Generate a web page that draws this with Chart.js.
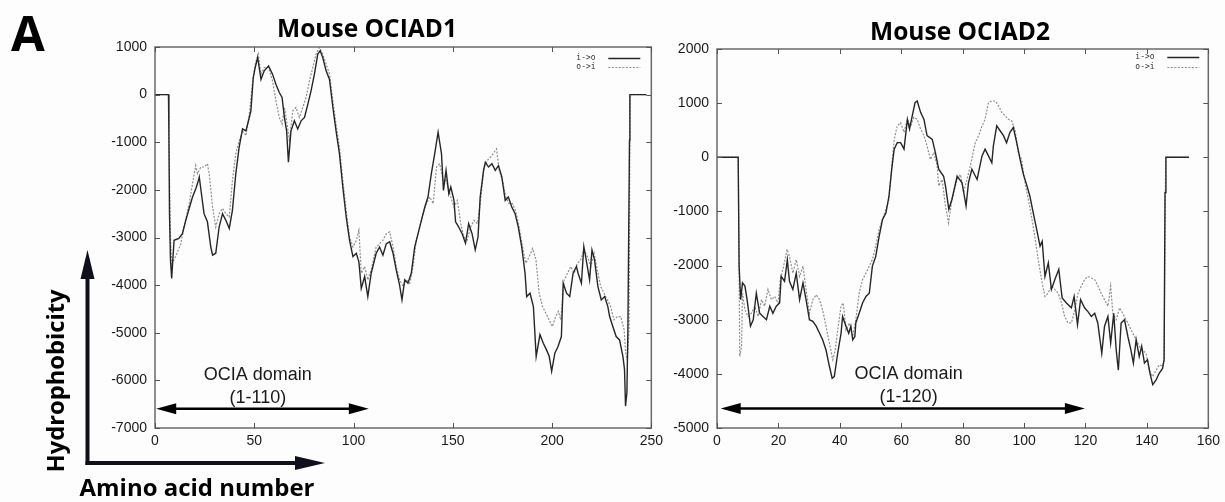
<!DOCTYPE html>
<html>
<head>
<meta charset="utf-8">
<script src="https://cdn.jsdelivr.net/npm/chart.js@4.4.1/dist/chart.umd.min.js"></script>
<style>
  html, body { margin: 0; padding: 0; background: #fdfdfd; }
  #wrap { position: relative; width: 1225px; height: 502px; overflow: hidden; }
  canvas { position: absolute; top: 0; }
  svg { position: absolute; left: 0; top: 0; pointer-events: none; }
</style>
</head>
<body>
<div id="wrap">
  <canvas id="c1" width="668" height="502" style="left:0"></canvas>
  <canvas id="c2" width="557" height="502" style="left:668px"></canvas>
  <svg width="1225" height="502" viewBox="0 0 1225 502">
    <text x="11" y="51" font-family="Open Sans" font-weight="bold" font-size="49" fill="#000">A</text>
    <text x="367" y="37" text-anchor="middle" font-family="Open Sans" font-weight="bold" font-size="25" textLength="180" lengthAdjust="spacingAndGlyphs" fill="#000">Mouse OCIAD1</text>
    <text x="960" y="40" text-anchor="middle" font-family="Open Sans" font-weight="bold" font-size="25" textLength="180" lengthAdjust="spacingAndGlyphs" fill="#000">Mouse OCIAD2</text>
    <text transform="translate(64,381) rotate(-90)" text-anchor="middle" font-family="Open Sans" font-weight="bold" font-size="23" textLength="183" lengthAdjust="spacingAndGlyphs" fill="#000">Hydrophobicity</text>
    <text x="197" y="496" text-anchor="middle" font-family="Open Sans" font-weight="bold" font-size="23" textLength="235" lengthAdjust="spacingAndGlyphs" fill="#000">Amino acid number</text>
    <line x1="87.5" y1="465" x2="87.5" y2="276" stroke="#10101c" stroke-width="4"/>
    <polygon points="87.5,250 80.5,279 94.5,279" fill="#10101c"/>
    <line x1="85.5" y1="463" x2="297" y2="463" stroke="#10101c" stroke-width="4"/>
    <polygon points="325,463 295,456 295,470" fill="#10101c"/>
  </svg>
</div>
<script>
// ---------------- Data: Mouse OCIAD1 (TMpred hydrophobicity) ----------------
const ociad1_io_aa = [0,6.8,7,7.3,7.8,8.4,9.6,12,13.8,15.5,17.2,18.9,20.5,21.9,22.3,23.6,24.7,26.4,28.1,29,30.6,32.3,34,35.7,37.4,39,40.7,42.4,44.1,45.8,47.5,48.3,49.5,50.5,51.7,53.4,55,57.2,59.2,60.9,62.6,64,65.2,66.3,67.2,68.5,70.2,71.9,73.6,75.3,77,78.6,80.3,82,83.2,84.5,86.2,87.9,89.6,91.2,92.9,94.6,96.3,98,99.7,101.4,102.7,103.9,105.6,107.2,108.9,111.4,113.1,114.8,116.5,118.2,119.9,121.5,123.2,124.4,125.8,127.4,129.1,130.8,132.5,134.2,135.9,137.5,139.2,140.9,142.6,144.3,145.3,146.6,148,149,150.6,151.4,153,154.7,156.4,158,159.7,161.3,162.7,163.8,165.5,166.4,168,169.7,171.4,173,174.7,176.4,178,179.7,181.4,183,184.7,186.4,187.2,188.9,190.6,192,193.9,195.6,197.2,198.6,199.8,201.4,203,204.7,205.6,207.3,208.9,210.6,212.3,213.1,214.8,216,217.2,218.9,220.1,221.4,223.1,224.8,226.5,228.1,229,230.6,232.3,234,235.7,236.5,237,237.7,238.2,239,239.2,247.5];
const ociad1_io = [0,0,-830,-2500,-3470,-3860,-3060,-3020,-2920,-2640,-2390,-2150,-1980,-1800,-1730,-2150,-2500,-2670,-3200,-3370,-3330,-2780,-2500,-2640,-2810,-2430,-1660,-1100,-720,-760,-480,-340,360,570,780,320,500,600,430,220,45,-60,-480,-760,-1420,-760,-550,-720,-550,-480,-200,80,430,850,920,780,500,320,-270,-760,-1240,-1940,-2570,-3060,-3400,-3330,-3510,-4070,-3820,-4240,-3750,-3330,-3200,-3370,-3130,-3090,-3330,-3680,-4000,-4310,-3890,-3960,-3750,-3200,-2920,-2640,-2360,-2150,-1660,-1240,-790,-1240,-2010,-1590,-2080,-1940,-2220,-2670,-2780,-2920,-3120,-2710,-2920,-3260,-2990,-2150,-1590,-1420,-1520,-1450,-1590,-1490,-1730,-2220,-2150,-2360,-2500,-2780,-3190,-3750,-4240,-4170,-4450,-5500,-5040,-5220,-5360,-5500,-5810,-5430,-5290,-5080,-3960,-4170,-4240,-3750,-3610,-3750,-3960,-3190,-3470,-3890,-3260,-3470,-4030,-4310,-4240,-4450,-4660,-4870,-5080,-5150,-5500,-5770,-6540,-6260,-4940,-960,0,0];
const ociad1_oi_aa = [0,6.8,7.2,7.8,8.5,10.4,13,14.6,17.2,18.9,20.5,21.4,23.1,24.7,26.4,27.3,29,30.6,32.3,34,35.7,37.4,39,40.7,42.4,44.1,45.8,47.5,49.2,50.5,52,53.4,55,57.2,59.2,60.9,62.6,64,65.2,66.3,67.7,69.4,71,72.7,74.4,76.1,77.8,79.5,81.1,82.8,84.5,86.2,87.9,89.6,91.2,92.9,94.6,96.3,98,99.7,101.4,102.7,103.9,105.6,107.2,108.9,111.4,113.1,114.8,116.5,118.2,119.9,121.5,123.2,125,126.6,128.3,130,131.6,133.3,135,136.7,138.4,140.1,141.8,143.4,145.1,146.6,149,150.6,152.3,154,155.6,157.3,159,160.7,162.4,164,165.7,167.4,169.1,170.8,172,173.4,175,176.7,178.4,180.1,181.8,183.4,185.1,186.8,188.5,190.2,191.9,193.5,195.2,196.9,198.5,200.2,201.8,203.2,204.4,206.1,207.8,209.4,211.1,212.8,214.4,216.1,217.8,219.5,221.2,222.8,224.5,226.2,227.9,229.5,231.2,232.9,234.6,236.3,237.1,237.9,238.8,239.2,239.3,247.5];
const ociad1_oi = [0,0,-1500,-3000,-3550,-3400,-3130,-2780,-2290,-1870,-1490,-1660,-1520,-1520,-1450,-1660,-2360,-2780,-2500,-2390,-2500,-2570,-1800,-1240,-970,-760,-860,-410,290,640,850,430,570,570,290,-130,-480,-620,-270,-550,-970,-340,-270,-480,-270,-60,290,570,850,990,850,640,430,-130,-620,-1100,-1800,-2430,-2990,-3200,-3060,-2850,-3750,-3610,-3890,-3680,-3200,-3130,-3060,-2920,-2880,-3200,-3610,-3890,-4030,-3890,-3960,-3610,-3060,-2780,-2500,-2290,-2150,-2290,-1520,-1450,-1800,-1800,-2150,-2360,-2220,-2710,-2990,-3050,-2780,-2640,-2710,-2220,-1520,-1380,-1310,-1210,-1140,-1590,-1800,-2150,-2290,-2290,-2460,-2780,-3190,-3540,-3400,-3230,-3470,-4170,-4450,-4590,-4730,-4870,-4660,-4550,-4730,-3890,-3750,-3610,-3750,-3540,-3470,-3260,-3400,-3610,-3330,-3680,-4030,-4170,-4310,-4450,-4730,-4660,-4660,-4940,-5430,-5570,-4940,-960,0,0];

// ---------------- Data: Mouse OCIAD2 ----------------
const ociad2_io_aa = [0,6.9,7.2,7.7,8.3,9.1,9.8,10.9,11.8,12.8,13.9,15,16.1,17.2,18.2,19.3,20.4,20.9,22,22.9,23.6,24.7,25.8,26.9,28,29,30.1,31.2,32.3,33.4,34.4,35.5,36.6,37.5,38.2,39.3,40.4,40.9,42,42.9,43.6,44.2,44.9,45.2,46.3,47.4,48.5,49.6,50.6,51.7,52.8,53.9,55,56,56.9,57.7,58.7,59.8,60.9,62,62.7,63.6,64.5,65.2,66.3,67.4,68.4,70.1,71.1,72.2,73.8,74.4,75.5,76.5,78.2,79.8,81.1,81.9,83,84.7,86.3,87.3,88.4,89.5,90,91.1,92.2,93.3,94.3,95.4,96.5,97.6,98.7,99.8,100.8,101.9,103,104.1,105.2,105.9,106.8,107.9,108.9,110,111.3,112.4,113.8,115.4,116.3,117.4,118.4,119.7,120.8,121.9,123,124,125.3,126.2,127.3,128.2,129.2,130,130.7,131.6,132.7,133.8,134.8,135.6,136.5,137.5,138.3,139.2,140.2,141,141.9,143,144,145.1,145.6,145.9,146.2,153.7];
const ociad2_io = [0,0,-2010,-2630,-2320,-2380,-2630,-3120,-3000,-2510,-2880,-2940,-3000,-2750,-2880,-2750,-2690,-2200,-2290,-1890,-2290,-2440,-2140,-2630,-2320,-2630,-3000,-3030,-3120,-3250,-3370,-3560,-3860,-4080,-4050,-3620,-3250,-2940,-3120,-3250,-3120,-3370,-3310,-3060,-2880,-2690,-2570,-2510,-2010,-1830,-1460,-1150,-1030,-720,-220,150,270,270,150,700,520,770,1010,1040,830,700,400,330,90,-220,-350,-530,-960,-780,-350,-470,-900,-470,-220,-410,25,150,25,-100,210,580,490,400,270,460,550,270,-40,-320,-500,-720,-1030,-1330,-1640,-1550,-2200,-1950,-2440,-2260,-2070,-2600,-2690,-2780,-2570,-3090,-2630,-2780,-2850,-2940,-2880,-3060,-3620,-3120,-2940,-3430,-2880,-3560,-3930,-3060,-3000,-3310,-3560,-3800,-3370,-3680,-3490,-3800,-3740,-3990,-4200,-4110,-3990,-3900,-3740,-650,0,0];
const ociad2_oi_aa = [0,6.9,7.2,7.4,8,8.3,9.1,10.1,11.2,12.3,13.4,14.5,15.5,16.6,17.7,18.8,19.9,20.6,21.7,22.8,23.6,24.7,25.8,26.9,28,29,30.1,31.2,32.3,33.4,34.4,35.5,36.6,37.7,38.5,39.3,40.4,41.1,42,43.1,44.2,45.2,46.3,47.4,48.5,49.6,50.6,51.7,52.8,53.9,55,56,56.9,57.7,58.7,59.8,60.9,62,63.1,64.1,65.2,66.3,67.4,68.4,69.5,70.6,71.7,72.2,73.3,74.4,75.4,76.5,78.2,79.3,80.3,81.4,82.5,84.1,85.2,86.3,87.3,88.4,89.5,90.6,91.7,92.7,93.8,94.9,96,97.1,98.1,99.2,100.3,101.4,102.4,103.5,104.6,105.7,106.8,107.8,108.9,110,111.1,112.2,113.2,114.3,115.4,116.5,117.6,118.6,119.7,120.8,121.9,123,124.1,125.1,126.2,127.3,128.2,128.9,130,131.1,132.1,133.2,134.3,135.4,136.5,137.5,138.6,139.7,140.8,141.9,143,144.1,145.1,145.6,146.1,153.7];
const ociad2_oi = [0,0,-2010,-3680,-3490,-2510,-2820,-2940,-2880,-2750,-2940,-2630,-2750,-2440,-2630,-2570,-2690,-2260,-2010,-1700,-1830,-2140,-1890,-2200,-2010,-2440,-2880,-2630,-2540,-2630,-2820,-3120,-3430,-3740,-3560,-3190,-2750,-2690,-3190,-3060,-3310,-3000,-2510,-2260,-2140,-2010,-1890,-1640,-1330,-1150,-960,-780,-160,330,580,640,460,700,580,740,700,520,400,210,-40,90,-160,-530,-410,-900,-1210,-780,-410,-320,-650,-410,-160,270,400,580,700,1010,1040,1040,950,830,770,700,670,490,90,-40,-470,-780,-1090,-1460,-1890,-2260,-2570,-2510,-2380,-2440,-2510,-2690,-2940,-3060,-3060,-2820,-2510,-2380,-2260,-2200,-2230,-2260,-2380,-2510,-2630,-2750,-2380,-2880,-3000,-2780,-2880,-3000,-3120,-3250,-3370,-3490,-3560,-3620,-3930,-4050,-3930,-3830,-3860,-3740,0,0];

// ---------------- Axis ticks / labels ----------------
const seriesLabels = ['i->o', 'o->i'];
const ociad1_xTicks = [0, 250, 50];      // min, max, step
const ociad1_yTicks = [-7000, 1000, 1000];
const ociad2_xTicks = [0, 160, 20];
const ociad2_yTicks = [-5000, 2000, 1000];
const ociad1_domain = ['OCIA domain', '(1-110)'];
const ociad2_domain = ['OCIA domain', '(1-120)'];

const pts = (xs, ys) => xs.map((v, i) => ({ x: v, y: ys[i] }));

const framePlugin = {
  id: 'gpFrame',
  afterDatasetsDraw(chart) {
    const { ctx, chartArea: a, scales: { x, y } } = chart;
    ctx.save();
    ctx.strokeStyle = '#6a6a6a';
    ctx.lineWidth = 1.5;
    ctx.strokeRect(a.left, a.top, a.right - a.left, a.bottom - a.top);
    ctx.lineWidth = 1;
    ctx.strokeStyle = '#555';
    const L = 5;
    ctx.beginPath();
    x.ticks.forEach(t => {
      const p = Math.round(x.getPixelForValue(t.value)) + 0.5;
      ctx.moveTo(p, a.bottom); ctx.lineTo(p, a.bottom - L);
      ctx.moveTo(p, a.top); ctx.lineTo(p, a.top + L);
    });
    y.ticks.forEach(t => {
      const p = Math.round(y.getPixelForValue(t.value)) + 0.5;
      ctx.moveTo(a.left, p); ctx.lineTo(a.left + L, p);
      ctx.moveTo(a.right, p); ctx.lineTo(a.right - L, p);
    });
    ctx.stroke();
    ctx.restore();
  }
};

const legendPlugin = {
  id: 'gpLegend',
  afterDatasetsDraw(chart, args, o) {
    const { ctx, chartArea: a } = chart;
    ctx.save();
    ctx.font = '8px "DejaVu Sans Mono", monospace';
    ctx.textBaseline = 'middle';
    ctx.textAlign = 'left';
    ctx.fillStyle = '#333';
    chart.data.datasets.forEach((ds, i) => {
      const yy = a.top + o.top + i * o.gap;
      ctx.fillText(ds.label, a.right - o.textRight, yy);
      ctx.strokeStyle = ds.borderColor;
      ctx.lineWidth = ds.borderWidth;
      ctx.setLineDash(ds.borderDash || []);
      ctx.beginPath();
      ctx.moveTo(a.right - o.lineFrom, Math.round(yy) + 0.5);
      ctx.lineTo(a.right - o.lineTo, Math.round(yy) + 0.5);
      ctx.stroke();
    });
    ctx.restore();
  }
};

const domainPlugin = {
  id: 'domainArrow',
  afterDatasetsDraw(chart, args, o) {
    const { ctx, scales: { x, y } } = chart;
    const x0 = x.getPixelForValue(o.from), x1 = x.getPixelForValue(o.to);
    const ya = y.getPixelForValue(o.y);
    const hl = 20, hw = 5.5;
    ctx.save();
    ctx.strokeStyle = '#000'; ctx.fillStyle = '#000'; ctx.lineWidth = 2.5;
    ctx.beginPath(); ctx.moveTo(x0 + hl - 2, ya); ctx.lineTo(x1 - hl + 2, ya); ctx.stroke();
    ctx.beginPath(); ctx.moveTo(x0, ya); ctx.lineTo(x0 + hl, ya - hw); ctx.lineTo(x0 + hl, ya + hw); ctx.closePath(); ctx.fill();
    ctx.beginPath(); ctx.moveTo(x1, ya); ctx.lineTo(x1 - hl, ya - hw); ctx.lineTo(x1 - hl, ya + hw); ctx.closePath(); ctx.fill();
    ctx.font = '18px "Liberation Sans", Arial, sans-serif';
    ctx.fillStyle = '#1a1a1a';
    ctx.textAlign = 'center'; ctx.textBaseline = 'middle';
    const tx = x.getPixelForValue(o.textX);
    ctx.fillText(o.lines[0], tx, y.getPixelForValue(o.textY1));
    ctx.fillText(o.lines[1], tx, y.getPixelForValue(o.textY2));
    ctx.restore();
  }
};

function makeChart(id, io, oi, xt, yt, dims, legendOpts, domainOpts) {
  const tickFont = { family: '"Liberation Sans", Arial, sans-serif', size: 14 };
  return new Chart(document.getElementById(id), {
    type: 'line',
    data: {
      datasets: [
        { label: seriesLabels[0], data: io, borderColor: '#262626', borderWidth: 1.4,
          pointRadius: 0, tension: 0, fill: false },
        { label: seriesLabels[1], data: oi, borderColor: '#8f8f8f', borderWidth: 1.2,
          borderDash: [2, 1.5], pointRadius: 0, tension: 0, fill: false }
      ]
    },
    options: {
      responsive: false, maintainAspectRatio: false, animation: false,
      layout: { padding: { left: 0, right: dims.right, top: dims.top, bottom: 0 } },
      plugins: { legend: { display: false }, tooltip: { enabled: false },
                 gpLegend: legendOpts, domainArrow: domainOpts },
      scales: {
        x: { type: 'linear', min: xt[0], max: xt[1],
             ticks: { stepSize: xt[2], padding: 5, color: '#1a1a1a', font: tickFont, maxRotation: 0,
                      callback: v => String(v) },
             grid: { display: false, drawTicks: false }, border: { display: false },
             afterFit: s => { s.height = dims.bottom; } },
        y: { type: 'linear', min: yt[0], max: yt[1],
             ticks: { stepSize: yt[2], padding: 8, color: '#1a1a1a', font: tickFont,
                      callback: v => String(v) },
             grid: { display: false, drawTicks: false }, border: { display: false },
             afterFit: s => { s.width = dims.left; } }
      }
    },
    plugins: [framePlugin, legendPlugin, domainPlugin]
  });
}

makeChart('c1', pts(ociad1_io_aa, ociad1_io), pts(ociad1_oi_aa, ociad1_oi),
  ociad1_xTicks, ociad1_yTicks,
  { left: 155, right: 15, top: 47, bottom: 74 },
  { top: 10.5, gap: 9.5, textRight: 75, lineFrom: 43, lineTo: 11 },
  { from: 0.6, to: 107.7, y: -6596, textX: 51.8, textY1: -5887, textY2: -6376, lines: ociad1_domain });

makeChart('c2', pts(ociad2_io_aa, ociad2_io), pts(ociad2_oi_aa, ociad2_oi),
  ociad2_xTicks, ociad2_yTicks,
  { left: 49, right: 14, top: 49, bottom: 74 },
  { top: 7.5, gap: 10.5, textRight: 73, lineFrom: 41, lineTo: 9 },
  { from: 1.2, to: 119.8, y: -4642, textX: 62.4, textY1: -4004, textY2: -4437, lines: ociad2_domain });
</script>
</body>
</html>
